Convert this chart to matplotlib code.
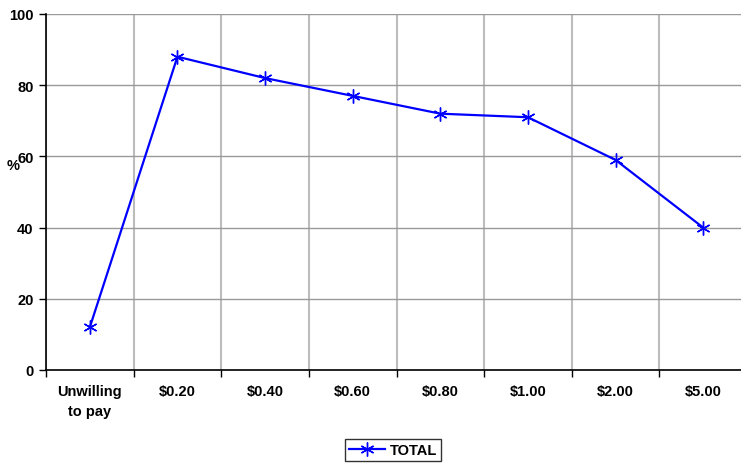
import matplotlib
matplotlib.use('Agg')
import matplotlib.pyplot as plt
import numpy as np

plt.rcParams['font.family'] = ['Liberation Sans', 'DejaVu Sans']

# 数据
categories = ['Unwilling\nto pay', '$0.20', '$0.40', '$0.60', '$0.80', '$1.00', '$2.00', '$5.00']
total = [12, 88, 82, 77, 72, 71, 59, 40]
y_ticks = [0, 20, 40, 60, 80, 100]

fig = plt.figure(figsize=(7.41, 4.64), dpi=100)
ax = fig.add_axes([46 / 741, 1 - 371 / 464, 701 / 741, 356 / 464])

x = np.arange(len(categories)) + 0.5
ax.plot(x, total, color='#0000ff', linewidth=1.6, marker=(6, 2, 0),
        markersize=10, markeredgewidth=1.0, label='TOTAL', clip_on=False)

ax.set_xlim(0, len(categories))
ax.set_ylim(0, 100)

# 网格与刻度
ax.set_xticks(np.arange(0, len(categories) + 1))
ax.set_xticklabels([])
ax.set_xticks(x, minor=True)
ax.set_xticklabels(categories, minor=True, fontsize=10.5, fontweight='bold',
                   linespacing=1.6)
ax.tick_params(axis='x', which='minor', length=0, pad=10)
ax.tick_params(axis='x', which='major', length=5, direction='out', width=1)
ax.set_yticks(y_ticks)
ax.set_yticklabels([str(v) for v in y_ticks], fontsize=10.5, fontweight='bold')
ax.tick_params(axis='y', length=5, direction='out', width=1, pad=4)

ax.xaxis.grid(True, which='major', color='#bcbcbc', linewidth=1.5)
ax.yaxis.grid(True, which='major', color='#999999', linewidth=1)
ax.set_axisbelow(True)

for s in ['top', 'right']:
    ax.spines[s].set_visible(False)
ax.spines['left'].set_linewidth(1.2)
ax.spines['bottom'].set_linewidth(1.2)

fig.text(13 / 741, 1 - 166 / 464, '%', fontsize=10.5, fontweight='bold',
         ha='center', va='center')

leg = fig.legend(loc='center', bbox_to_anchor=(393 / 741, 1 - 451 / 464),
                 frameon=True, fancybox=False, prop={'size': 10.5, 'weight': 'bold'},
                 handlelength=2.5, borderpad=0.3, handletextpad=0.3)
leg.get_frame().set_edgecolor('black')
leg.get_frame().set_linewidth(1)

fig.savefig('out.png', dpi=100)
